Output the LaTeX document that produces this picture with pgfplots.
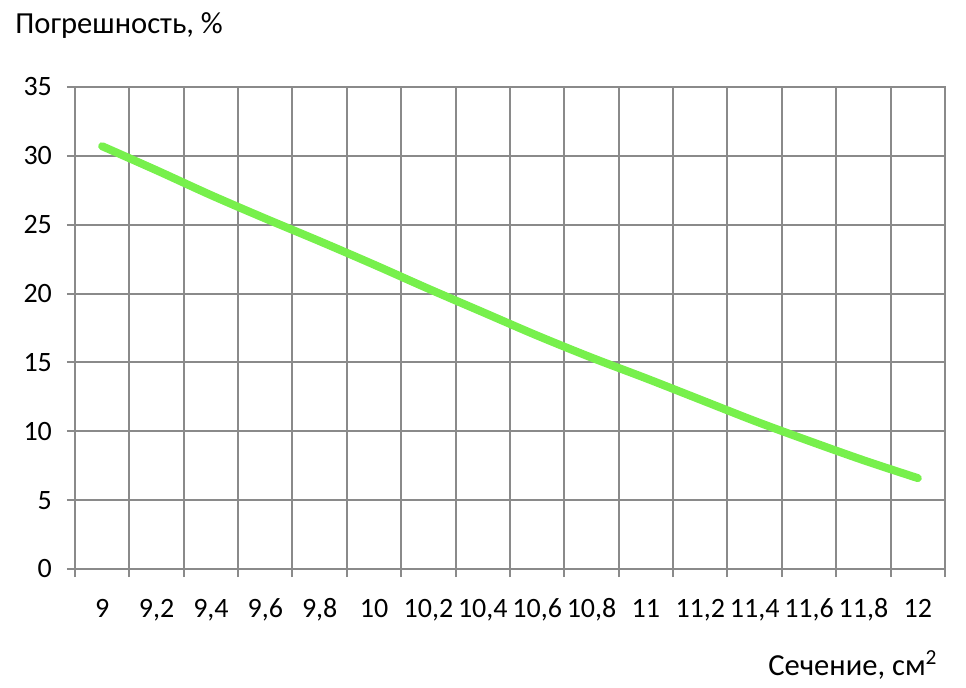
\documentclass[border=0pt]{standalone}
\usepackage{fontspec}
\setmainfont{Carlito}
\usepackage{pgfplots}
\pgfplotsset{compat=1.18}
\definecolor{gridgray}{HTML}{8A8A8A}
\definecolor{curve}{HTML}{77F04C}

\begin{document}
\begin{tikzpicture}
\useasboundingbox (-37.5pt,-59pt) rectangle (445.5pt,284.5pt);
\begin{axis}[at={(0,0)}, anchor=south west, scale only axis,
  width=435pt, height=241pt,
  xmin=-0.5, xmax=15.5, ymin=0, ymax=35,
  xtick={0,...,15},
  xticklabels={9,{9,2},{9,4},{9,6},{9,8},10,{10,2},{10,4},{10,6},{10,8},11,{11,2},{11,4},{11,6},{11,8},12},
  minor xtick={-0.5,0.5,...,15.5},
  ytick={0,5,...,35},
  major x tick style={draw=none},
  tick align=outside, tick pos=left,
  major tick length=4pt, minor tick length=4pt,
  ymajorgrids, xminorgrids,
  grid style={gridgray, line width=1pt},
  every tick/.style={gridgray, line width=1pt},
  axis line style={gridgray, line width=1pt},
  tick label style={font=\fontsize{14}{16}\selectfont, black},
  /pgf/number format/assume math mode=true,
  yticklabel style={anchor=east, xshift=-4pt},
  xticklabel style={anchor=base, yshift=-20pt},
  clip=false]
\addplot[curve, line width=4pt, line cap=round, smooth] coordinates {
  (0,30.7) (1,28.95) (2,27.15) (3,25.45) (4,23.8) (5,22.1) (6,20.35) (7,18.65)
  (8,16.95) (9,15.35) (10,13.85) (11,12.3) (12,10.75) (13,9.3) (14,7.9) (15,6.6)};
\end{axis}
\node[anchor=base west, font=\fontsize{15.3}{18}\selectfont, inner sep=0pt] at (-30pt,267.5pt) {Погрешность, \%};
\node[anchor=base east, font=\fontsize{15.3}{18}\selectfont, inner sep=0pt] at (431.5pt,-53pt) {Сечение, см\textsuperscript{2}};
\end{tikzpicture}
\end{document}
